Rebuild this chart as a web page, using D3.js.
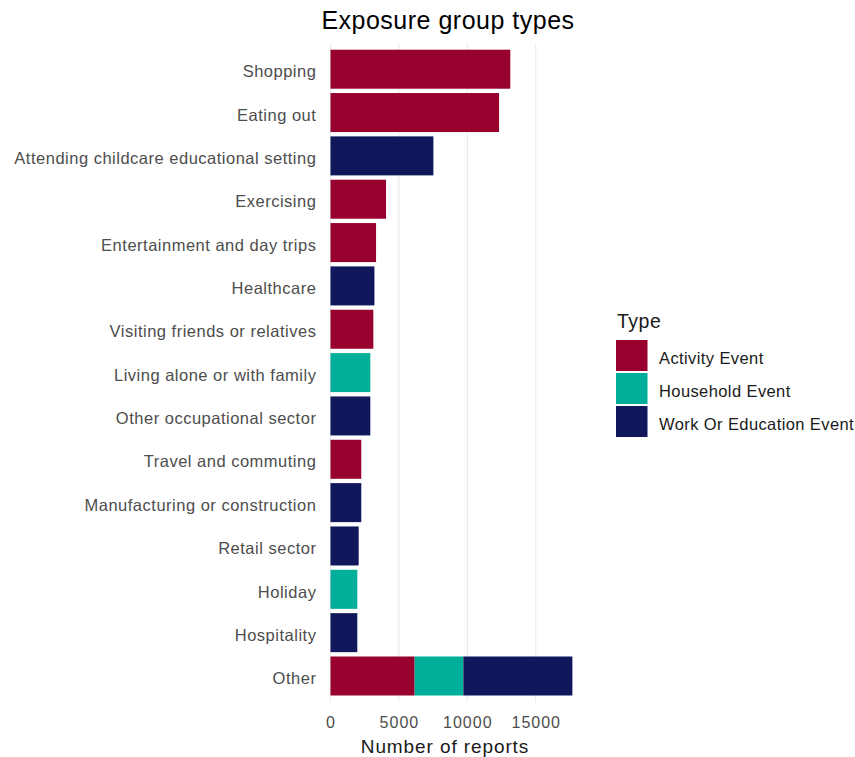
<!DOCTYPE html>
<html>
<head>
<meta charset="utf-8">
<script src="https://cdn.jsdelivr.net/npm/d3@7"></script>
<style>
  body { margin: 0; background: #fff; }
  text { font-family: "Liberation Sans", Arial, sans-serif; }
</style>
</head>
<body>
<svg id="chart" width="855" height="757"></svg>
<script>
// Exposure categories, top to bottom
const categories = [
  "Shopping", "Eating out", "Attending childcare educational setting", "Exercising",
  "Entertainment and day trips", "Healthcare", "Visiting friends or relatives",
  "Living alone or with family", "Other occupational sector", "Travel and commuting",
  "Manufacturing or construction", "Retail sector", "Holiday", "Hospitality", "Other"
];
const types = ["Activity Event", "Household Event", "Work Or Education Event"];
const typeColors = ["#98002e", "#00af9a", "#10175b"];

// Reports per category and type
const activityValues  = [13140, 12320, 0, 4060, 3330, 0, 3130, 0, 0, 2250, 0, 0, 0, 0, 6150];
const householdValues = [0, 0, 0, 0, 0, 0, 0, 2910, 0, 0, 0, 0, 1960, 0, 3560];
const workValues      = [0, 0, 7520, 0, 0, 3210, 0, 0, 2910, 0, 2250, 2060, 0, 1960, 7970];
const xTicks = [0, 5000, 10000, 15000];

const rows = categories.map((c, i) => ({
  category: c,
  "Activity Event": activityValues[i],
  "Household Event": householdValues[i],
  "Work Or Education Event": workValues[i]
}));
const stacked = d3.stack().keys(types)(rows);

const svg = d3.select("#chart");
const panel = { left: 318.4, right: 584.5, top: 43.2, bottom: 702 };

const maxTotal = d3.max(rows, r => types.reduce((s, t) => s + r[t], 0));
const pad = maxTotal * 0.05;
const x = d3.scaleLinear().domain([-pad, maxTotal + pad]).range([panel.left, panel.right]);

// discrete axis with 0.6-band expansion on each side
const n = categories.length;
const step = (panel.bottom - panel.top) / (n - 1 + 1.2);
const y = d3.scaleBand().domain(categories)
  .range([panel.top + 0.6 * step - step / 2, panel.bottom - 0.6 * step + step / 2])
  .paddingInner(0.1).paddingOuter(0.05);

// vertical grid
svg.append("g").selectAll("line").data(xTicks).join("line")
  .attr("x1", d => x(d)).attr("x2", d => x(d))
  .attr("y1", panel.top).attr("y2", panel.bottom)
  .attr("stroke", "#ebebeb").attr("stroke-width", 1.1);

// stacked bars
svg.append("g").selectAll("g").data(stacked).join("g")
  .attr("fill", (d, i) => typeColors[i])
  .selectAll("rect").data(d => d.filter(s => s[1] > s[0])).join("rect")
  .attr("x", d => x(d[0]))
  .attr("width", d => x(d[1]) - x(d[0]))
  .attr("y", d => y(d.data.category))
  .attr("height", y.bandwidth());

// category labels
svg.append("g").selectAll("text").data(categories).join("text")
  .attr("x", panel.left - 2)
  .attr("y", d => y(d) + y.bandwidth() / 2 + 8.2)
  .attr("text-anchor", "end")
  .attr("font-size", 16.5)
  .attr("letter-spacing", 0.5)
  .attr("fill", "#4d4d4d")
  .text(d => d);

// x tick labels
svg.append("g").selectAll("text").data(xTicks).join("text")
  .attr("x", d => x(d) + 0.5)
  .attr("y", 727.7)
  .attr("text-anchor", "middle")
  .attr("font-size", 16)
  .attr("letter-spacing", 1)
  .attr("fill", "#4d4d4d")
  .text(d => d);

// axis title
svg.append("text")
  .attr("x", 445)
  .attr("y", 752.5)
  .attr("text-anchor", "middle")
  .attr("font-size", 19)
  .attr("letter-spacing", 0.9)
  .attr("fill", "#1a1a1a")
  .text("Number of reports");

// chart title
svg.append("text")
  .attr("x", 448)
  .attr("y", 29)
  .attr("text-anchor", "middle")
  .attr("font-size", 25)
  .attr("letter-spacing", 0.5)
  .attr("fill", "#000")
  .text("Exposure group types");

// legend
const legend = svg.append("g").attr("transform", "translate(616,0)");
legend.append("text")
  .attr("x", 1).attr("y", 328.3)
  .attr("font-size", 19.5)
  .attr("letter-spacing", 0.5)
  .attr("fill", "#1a1a1a")
  .text("Type");
const keys = legend.selectAll("g.key").data(types).join("g")
  .attr("class", "key")
  .attr("transform", (d, i) => `translate(0,${340 + i * 33})`);
keys.append("rect")
  .attr("width", 31.5).attr("height", 31)
  .attr("fill", (d, i) => typeColors[i]);
keys.append("text")
  .attr("x", 43).attr("y", 15.5 + 8.3)
  .attr("font-size", 16.5)
  .attr("letter-spacing", 0.4)
  .attr("fill", "#1a1a1a")
  .text(d => d);
</script>
</body>
</html>
